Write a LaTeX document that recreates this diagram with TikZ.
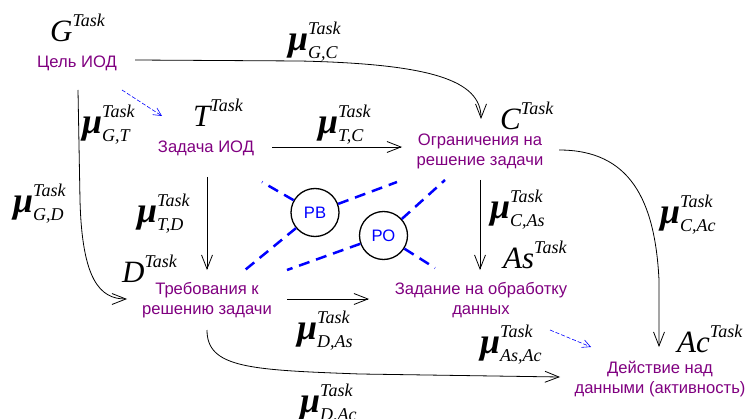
\documentclass[tikz,border=0pt]{standalone}
\usepackage{fontspec}
\usepackage{graphicx}
\setsansfont{Liberation Sans}
\newfontfamily\tnr{Liberation Serif}
\usetikzlibrary{arrows.meta}
\definecolor{labc}{RGB}{128,0,128}
\definecolor{dblue}{RGB}{0,0,255}
\newcommand\bigf{\tnr\itshape\fontsize{31}{36}\selectfont}
\newcommand\smf{\tnr\itshape\fontsize{18}{20}\selectfont}
\newcommand\muf{\tnr\itshape\bfseries\fontsize{36}{40}\selectfont}
\newcommand\symb[1]{{\bigf #1}{\smf\raisebox{15pt}{Task}}}
\newcommand\mulab[1]{{\muf μ}{\smf\rlap{\raisebox{16pt}{Task}}\raisebox{-8pt}{#1}}}
\begin{document}
\begin{tikzpicture}[x=1pt,y=-1pt,
  sym/.style={anchor=base west, inner sep=0pt},
  lab/.style={align=center, inner sep=0pt, text=labc, font=\sffamily\fontsize{16.6}{20}\selectfont},
  circ/.style={circle, draw=black, line width=1.3pt, minimum size=48pt, inner sep=0pt, text=dblue, font=\sffamily\fontsize{16.6}{16}\selectfont},
  conn/.style={line width=0.8pt, -{Straight Barb[length=14pt,width=11pt]}},
  sarrow/.style={draw=dblue, line width=0.6pt, dash pattern=on 4pt off 2pt, -{Straight Barb[length=8pt,width=8pt]}},
  dline/.style={draw=dblue, line width=2.5pt, dash pattern=on 11pt off 7pt}]
\useasboundingbox (0,0) rectangle (751,419);
% symbols
\node[sym] (G) at (50,42) {\symb{G}};
\node[sym] (T) at (193,127) {\symb{T}};
\node[sym] (C) at (500,130) {\symb{C}};
\node[sym] (D) at (122,283) {\symb{D}};
\node[sym] (As) at (503,269) {\symb{As}};
\node[sym] (Ac) at (677,352) {\symb{Ac}};
% labels
\node[lab] (Glab) at (77,63) {Цель ИОД};
\node[lab] (Tlab) at (206,148) {Задача ИОД};
\node[lab] (Clab) at (480,151) {Ограничения на\\решение задачи};
\node[lab] (Dlab) at (207,300) {Требования к\\решению задачи};
\node[lab] (Aslab) at (481,300) {Задание на обработку\\данных};
\node[lab] (Aclab) at (660,379) {Действие над\\данными (активность)};
% mu labels
\node[sym] (mGC) at (288,51) {\mulab{G,C}};
\node[sym] (mGT) at (82,134) {\mulab{G,T}};
\node[sym] (mGD) at (13,213) {\mulab{G,D}};
\node[sym] (mTD) at (137,223) {\mulab{T,D}};
\node[sym] (mTC) at (318,134) {\mulab{T,C}};
\node[sym] (mCAs) at (490,219) {\mulab{C,As}};
\node[sym] (mCAc) at (660,224) {\mulab{C,Ac}};
\node[sym] (mDAs) at (297,339) {\mulab{D,As}};
\node[sym] (mAsAc) at (480,353) {\mulab{As,Ac}};
\node[sym] (mDAc) at (300,412) {\mulab{D,Ac}};
% circles
\node[circ] (PB) at (315,212.5) {РВ};
\node[circ] (PO) at (383.5,235.5) {РО};
% connector ends
\coordinate (gc0) at (135,60); \coordinate (gc1) at (481,119);
\coordinate (tc0) at (272,147); \coordinate (tc1) at (402,147);
\coordinate (gd0) at (78,90); \coordinate (gd1) at (127,299);
\coordinate (td0) at (207,177); \coordinate (td1) at (207,270);
\coordinate (ca0) at (480,180); \coordinate (ca1) at (480,270);
\coordinate (da0) at (287,299); \coordinate (da1) at (369,299);
\coordinate (dc0) at (207,330); \coordinate (dc1) at (560,377);
\coordinate (cc0) at (559,150); \coordinate (cc1) at (659,347);
\coordinate (s1a) at (122,90); \coordinate (s1b) at (162,116);
\coordinate (s2a) at (550,330); \coordinate (s2b) at (591,347);
\coordinate (e1) at (262,182); \coordinate (e2) at (397,182); \coordinate (e3) at (245,270);
\coordinate (e4) at (445,180); \coordinate (e5) at (287,270); \coordinate (e6) at (435,268);
% connectors
\draw[conn] (gc0) -- (300,61) .. controls (430,64) and (481,80) .. (gc1);
\draw[conn] (tc0) -- (tc1);
\draw[conn] (gd0) -- (80,200) .. controls (82,280) and (100,299) .. (gd1);
\draw[conn] (td0) -- (td1);
\draw[conn] (ca0) -- (ca1);
\draw[conn] (da0) -- (da1);
\draw[conn] (dc0) .. controls (207,368) and (250,370) .. (360,374) -- (dc1);
\draw[conn] (cc0) .. controls (630,150) and (655,200) .. (659,280) -- (cc1);
\draw[sarrow] (s1a) -- (s1b);
\draw[sarrow] (s2a) -- (s2b);
% dashed lines
\draw[dline] (PB) -- (e1);
\draw[dline] (PB) -- (e2);
\draw[dline] (PB) -- (e3);
\draw[dline] (PO) -- (e4);
\draw[dline] (PO) -- (e5);
\draw[dline] (PO) -- (e6);
\end{tikzpicture}
\end{document}
